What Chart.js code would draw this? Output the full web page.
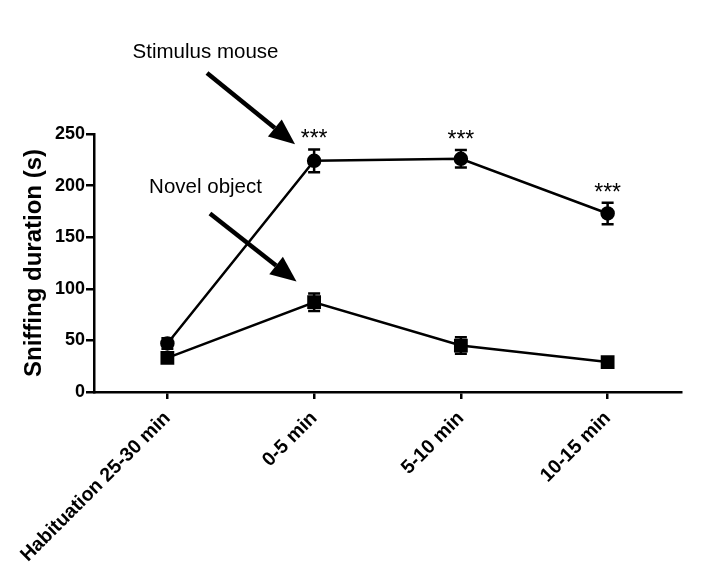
<!DOCTYPE html>
<html>
<head>
<meta charset="utf-8">
<script src="https://cdn.jsdelivr.net/npm/chart.js@4/dist/chart.umd.min.js"></script>
<style>
  html, body { margin: 0; padding: 0; background: #fff; }
  #wrap { width: 712px; height: 580px; }
</style>
</head>
<body>
<div id="wrap"><canvas id="myChart" width="712" height="580"></canvas></div>
<script>
// datos
const categorias = ["Habituation 25-30 min", "0-5 min", "5-10 min", "10-15 min"];
const ratonValores = [47, 224, 226, 173];
const ratonError = [5, 11, 8.5, 10.5];
const objetoValores = [33, 87, 45, 29];
const objetoError = [2, 8.5, 8, 2];
const estrellas = ["", "***", "***", "***"];
const yTicks = [0, 50, 100, 150, 200, 250];

// anotaciones en unidades de datos (indice de categoria, valor)
const notas = [
  { texto: "Stimulus mouse", x: 0.26, y: 329, desde: [0.27, 309], hasta: [0.87, 240] },
  { texto: "Novel object", x: 0.26, y: 198, desde: [0.29, 173], hasta: [0.88, 107] }
];

const fuente = "'Liberation Sans', Arial, sans-serif";

// plugin para barras de error, asteriscos y flechas
const extras = {
  id: 'extras',
  afterDatasetsDraw(chart) {
    const ctx = chart.ctx;
    const xs = chart.scales.x;
    const ys = chart.scales.y;
    ctx.save();
    ctx.strokeStyle = '#000';
    ctx.fillStyle = '#000';
    ctx.lineWidth = 2.5;

    const series = [[ratonValores, ratonError], [objetoValores, objetoError]];
    series.forEach(([vals, errs]) => {
      vals.forEach((v, i) => {
        const x = xs.getPixelForValue(i);
        const top = ys.getPixelForValue(v + errs[i]);
        const bot = ys.getPixelForValue(v - errs[i]);
        ctx.beginPath();
        ctx.moveTo(x, top); ctx.lineTo(x, bot);
        ctx.moveTo(x - 6, top); ctx.lineTo(x + 6, top);
        ctx.moveTo(x - 6, bot); ctx.lineTo(x + 6, bot);
        ctx.stroke();
      });
    });

    // asteriscos
    ctx.font = "23px " + fuente;
    ctx.textAlign = 'center';
    ctx.textBaseline = 'alphabetic';
    estrellas.forEach((s, i) => {
      if (!s) return;
      const x = xs.getPixelForValue(i);
      const top = ys.getPixelForValue(ratonValores[i] + ratonError[i]);
      ctx.fillText(s, x, top - 3);
    });

    // textos y flechas
    ctx.font = "20.5px " + fuente;
    ctx.textBaseline = 'middle';
    notas.forEach(n => {
      ctx.fillText(n.texto, xs.getPixelForValue(n.x), ys.getPixelForValue(n.y));
      const x1 = xs.getPixelForValue(n.desde[0]), y1 = ys.getPixelForValue(n.desde[1]);
      const x2 = xs.getPixelForValue(n.hasta[0]), y2 = ys.getPixelForValue(n.hasta[1]);
      const ang = Math.atan2(y2 - y1, x2 - x1);
      const largo = 26, ancho = 11;
      const bx = x2 - largo * Math.cos(ang), by = y2 - largo * Math.sin(ang);
      ctx.lineWidth = 4.5;
      ctx.beginPath();
      ctx.moveTo(x1, y1); ctx.lineTo(bx, by);
      ctx.stroke();
      ctx.beginPath();
      ctx.moveTo(x2, y2);
      ctx.lineTo(bx + ancho * Math.sin(ang), by - ancho * Math.cos(ang));
      ctx.lineTo(bx - ancho * Math.sin(ang), by + ancho * Math.cos(ang));
      ctx.closePath();
      ctx.fill();
    });
    ctx.restore();
  }
};

let mychart = document.getElementById("myChart").getContext("2d");

var chart = new Chart(mychart, {
  type: "line",
  data: {
    labels: categorias,
    datasets: [{
      label: "Stimulus mouse",
      data: ratonValores,
      borderColor: '#000',
      backgroundColor: '#000',
      borderWidth: 2.5,
      pointStyle: 'circle',
      pointRadius: 6,
      tension: 0
    }, {
      label: "Novel object",
      data: objetoValores,
      borderColor: '#000',
      backgroundColor: '#000',
      borderWidth: 2.5,
      pointStyle: 'rect',
      pointRadius: 8,
      tension: 0
    }]
  },
  options: {
    responsive: false,
    animation: false,
    layout: { padding: { top: 134, right: 31, left: 0, bottom: 0 } },
    scales: {
      x: {
        offset: true,
        grid: { offset: false, drawOnChartArea: false, drawTicks: true, tickLength: 7, color: '#000', lineWidth: 2.5 },
        border: { color: '#000', width: 2.5 },
        ticks: {
          color: '#000',
          minRotation: 45,
          maxRotation: 45,
          padding: 8,
          font: { family: fuente, size: 19.5, weight: 'bold' }
        },
        afterFit(axis) { axis.height = 188; }
      },
      y: {
        min: 0,
        max: 250,
        afterBuildTicks(axis) { axis.ticks = yTicks.map(v => ({ value: v })); },
        grid: { drawOnChartArea: false, drawTicks: true, tickLength: 8, color: '#000', lineWidth: 2.5 },
        border: { color: '#000', width: 2.5 },
        ticks: {
          color: '#000',
          padding: 1,
          font: { family: fuente, size: 18, weight: 'bold' }
        },
        title: {
          display: true,
          text: 'Sniffing duration (s)',
          color: '#000',
          padding: { top: 20, bottom: 0 },
          font: { family: fuente, size: 24, weight: 'bold' }
        },
        afterFit(axis) { axis.width = 94; }
      }
    },
    plugins: {
      legend: { display: false },
      tooltip: { enabled: false }
    }
  },
  plugins: [extras]
});
</script>
</body>
</html>
